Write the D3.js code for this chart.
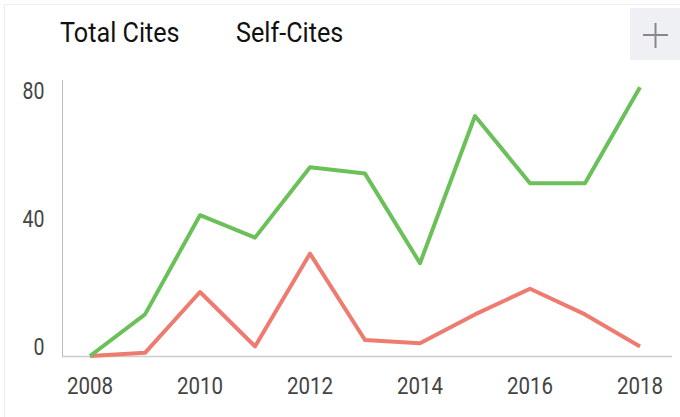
<!DOCTYPE html>
<html>
<head>
<meta charset="utf-8">
<script src="https://cdn.jsdelivr.net/npm/d3@7"></script>
<style>
body{margin:0;background:#fff;}
svg{display:block;font-family:Roboto,"Noto Sans",sans-serif;}
</style>
</head>
<body>
<script>
var years = [2008,2009,2010,2011,2012,2013,2014,2015,2016,2017,2018];
var totalCites = [0,13,44,37,59,57,29,75,54,54,84];
var selfCites = [0,1,20,3,32,5,4,13,21,13,3];
var yTicks = [0,40,80];
var xTicks = [2008,2010,2012,2014,2016,2018];
var legendLabels = ["Total Cites","Self-Cites"];

var svg = d3.select("body").append("svg").attr("width",680).attr("height",417);

// card border
svg.append("rect").attr("x",4.5).attr("y",4.5).attr("width",690).attr("height",430)
    .attr("fill","none").attr("stroke","#eeeeee");

var x = d3.scaleLinear().domain([2008,2018]).range([90,640]);
var y = d3.scaleLinear().domain([0,80]).range([356,100]);

// axis lines
svg.append("line").attr("x1",62.5).attr("x2",62.5).attr("y1",80).attr("y2",356)
    .attr("stroke","#bbbbbb").attr("stroke-width",1);
svg.append("line").attr("x1",62).attr("x2",672).attr("y1",356.5).attr("y2",356.5)
    .attr("stroke","#cccccc").attr("stroke-width",1.5);

// text in the picture is a bit stretched vertically
svg.selectAll("text.ytick")
    .data(yTicks)
    .enter().append("text")
    .attr("class","ytick")
    .attr("transform",function(d){return "translate(44.5,"+(y(d)-7)+") scale(1,1.2)";})
    .attr("text-anchor","end")
    .attr("dominant-baseline","middle")
    .attr("font-size",19.5)
    .attr("fill","#444")
    .text(function(d){return d;});

svg.selectAll("text.xtick")
    .data(xTicks)
    .enter().append("text")
    .attr("class","xtick")
    .attr("transform",function(d){return "translate("+x(d)+",387) scale(1,1.2)";})
    .attr("text-anchor","middle")
    .attr("dominant-baseline","middle")
    .attr("font-size",20.5)
    .attr("fill","#444")
    .text(function(d){return d;});

var line = d3.line().x(function(d,i){return x(years[i]);}).y(function(d){return y(d);});

svg.append("path").datum(selfCites).attr("d",line)
    .attr("fill","none").attr("stroke","#ef7b70").attr("stroke-width",4).attr("stroke-linejoin","round");
svg.append("path").datum(totalCites).attr("d",line)
    .attr("fill","none").attr("stroke","#6cc05a").attr("stroke-width",4).attr("stroke-linejoin","round");

// legend
svg.selectAll("text.legend")
    .data(legendLabels)
    .enter().append("text")
    .attr("class","legend")
    .attr("transform",function(d,i){return "translate("+(60+176*i)+",35) scale(1,1.08)";})
    .attr("dominant-baseline","middle")
    .attr("font-size",25.2)
    .attr("fill","#111")
    .text(function(d){return d;});

// plus button
svg.append("rect").attr("x",630).attr("y",8).attr("width",50).attr("height",52).attr("fill","#eef0f3");
svg.append("line").attr("x1",643).attr("x2",668).attr("y1",35).attr("y2",35).attr("stroke","#888").attr("stroke-width",2);
svg.append("line").attr("x1",655.5).attr("x2",655.5).attr("y1",23).attr("y2",48).attr("stroke","#888").attr("stroke-width",2);
</script>
</body>
</html>
